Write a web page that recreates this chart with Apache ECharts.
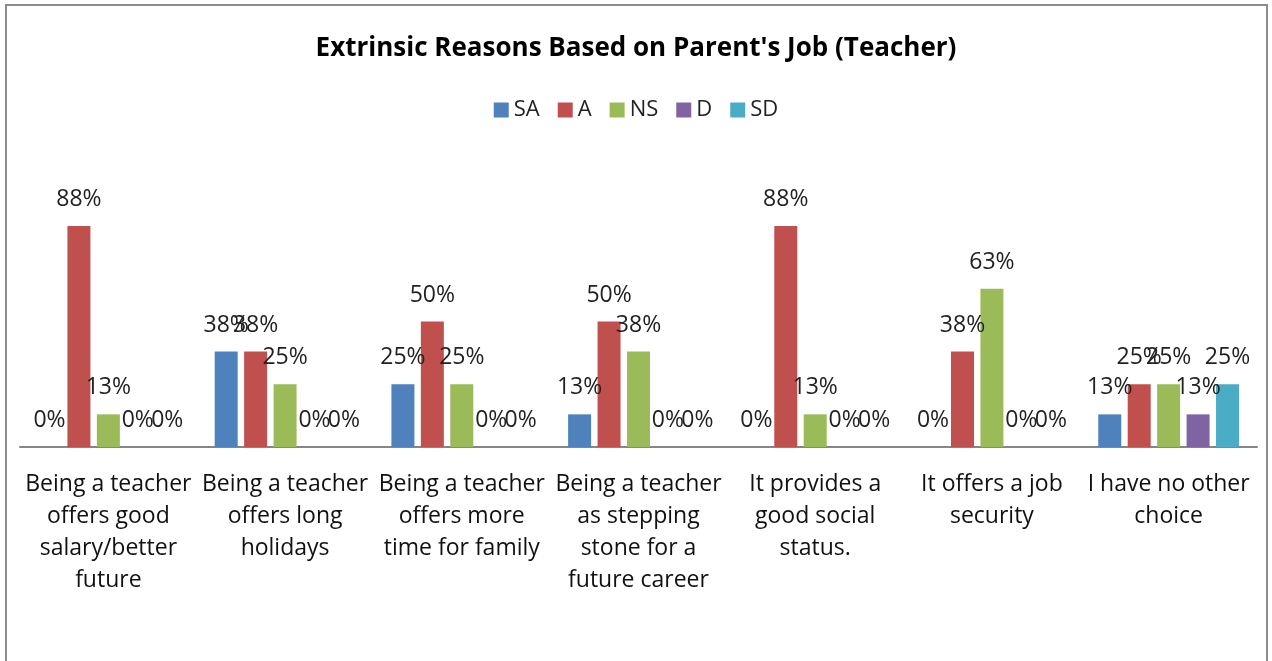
<!DOCTYPE html>
<html>
<head>
<meta charset="utf-8">
<script src="https://cdn.jsdelivr.net/npm/echarts@6/dist/echarts.min.js"></script>
<style>
html,body{margin:0;padding:0;background:#fff;}
#c{width:1272px;height:661px;}
</style>
</head>
<body>
<div id="c"></div>
<script>
const categories = [
  "Being a teacher\noffers good\nsalary/better\nfuture",
  "Being a teacher\noffers long\nholidays",
  "Being a teacher\noffers more\ntime for family",
  "Being a teacher\nas stepping\nstone for a\nfuture career",
  "It provides a\ngood social\nstatus.",
  "It offers a job\nsecurity",
  "I have no other\nchoice"
];
const seriesNames = ["SA", "A", "NS", "D", "SD"];
const SA = [0, 38, 25, 13, 0, 0, 13];
const A  = [88, 38, 50, 50, 88, 38, 25];
const NS = [13, 25, 25, 38, 13, 63, 25];
const D  = [0, 0, 0, 0, 0, 0, 13];
const SD = [0, 0, 0, 0, 0, 0, 25];
const colors = ["#4F81BD", "#C0504D", "#9BBB59", "#8064A2", "#4BACC6"];
const values = [SA, A, NS, D, SD];

const FONT = "Open Sans";
const chart = echarts.init(document.getElementById('c'));
chart.setOption({
  animation: false,
  textStyle: { fontFamily: FONT },
  title: {
    text: "Extrinsic Reasons Based on Parent's Job (Teacher)",
    left: 'center', top: 31,
    textStyle: { fontFamily: FONT, fontSize: 26, fontWeight: 'bold', color: '#000' }
  },
  legend: {
    top: 94, left: 'center',
    itemWidth: 15, itemHeight: 15, itemGap: 18,
    icon: 'rect',
    textStyle: { fontFamily: FONT, fontSize: 22, color: '#222' },
    data: seriesNames
  },
  graphic: [{
    type: 'rect', silent: true, z: 100,
    shape: { x: 6, y: 5, width: 1261, height: 720 },
    style: { fill: 'none', stroke: '#8c8c8c', lineWidth: 2 }
  }],
  grid: { left: 20, right: 15, top: 196, bottom: 214 },
  xAxis: {
    type: 'category', data: categories,
    axisLine: { lineStyle: { color: '#868686', width: 2 } },
    axisTick: { show: false },
    axisLabel: { interval: 0, margin: 21, fontFamily: FONT, fontSize: 23, lineHeight: 32, color: '#111', align: 'center' }
  },
  yAxis: { type: 'value', min: 0, max: 100, show: false, splitLine: { show: false } },
  series: seriesNames.map((n, i) => ({
    name: n, type: 'bar', data: values[i],
    barWidth: 23, barGap: '28%',
    itemStyle: { color: colors[i] },
    label: {
      show: true, position: 'top', distance: 15,
      formatter: p => p.value + '%',
      fontFamily: FONT, fontSize: 23, color: '#222'
    }
  }))
});
</script>
</body>
</html>
